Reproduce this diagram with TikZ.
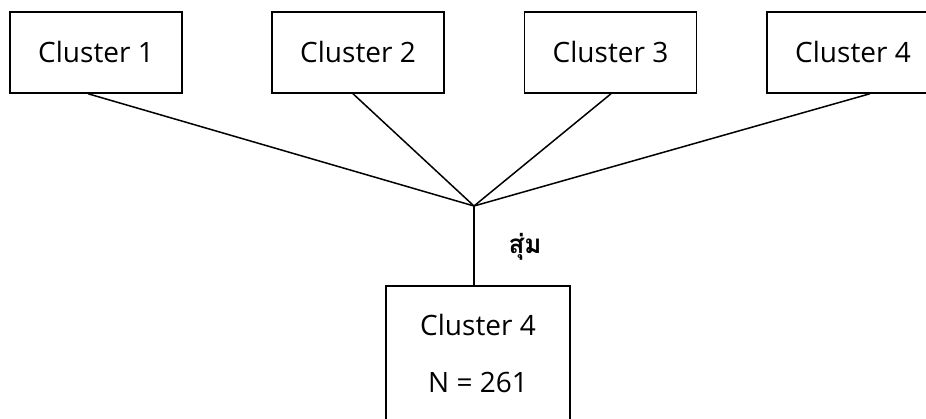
\documentclass[tikz,border=0pt]{standalone}
\usepackage{fontspec}
\setmainfont{Open Sans}
\newfontfamily\thaifont[Script=Thai]{Loma}
\begin{document}
\begin{tikzpicture}[x=1pt,y=-1pt,
  box/.style={draw,line width=1.5pt,minimum width=172pt,minimum height=81pt,inner sep=0pt,font=\fontsize{28}{32}\selectfont},
  lbl/.style={inner sep=0pt,font=\fontsize{28}{32}\selectfont},
  conn/.style={line width=1.5pt}]
\useasboundingbox (0,0) rectangle (926,419);
\clip (0,0) rectangle (926,419);
\fill[white] (0,0) rectangle (926,419);
\node[box] (b1) at (96,52.5) {Cluster 1};
\node[box] (b2) at (358,52.5) {Cluster 2};
\node[box] (b3) at (610.5,52.5) {Cluster 3};
\node[box] (b4) at (853,52.5) {Cluster 4};
\node[draw,line width=1.5pt,minimum width=184pt,minimum height=170pt,inner sep=0pt] (b5) at (478,371) {};
\node[lbl] (t1) at (478,325) {Cluster 4};
\node[lbl] (t2) at (478,382) {N = 261};
\coordinate (m) at (474,206);
\draw[conn] ([xshift=-8pt]b1.south) -- (m);
\draw[conn] ([xshift=-5pt]b2.south) -- (m);
\draw[conn] ([xshift=0.5pt]b3.south) -- (m);
\draw[conn] ([xshift=17pt]b4.south) -- (m);
\draw[conn] (m) -- (m |- b5.north);
\node[inner sep=0pt,font=\thaifont\bfseries\fontsize{26}{30}\selectfont] (s) at (525,247) {สุ่ม};
\end{tikzpicture}
\end{document}
